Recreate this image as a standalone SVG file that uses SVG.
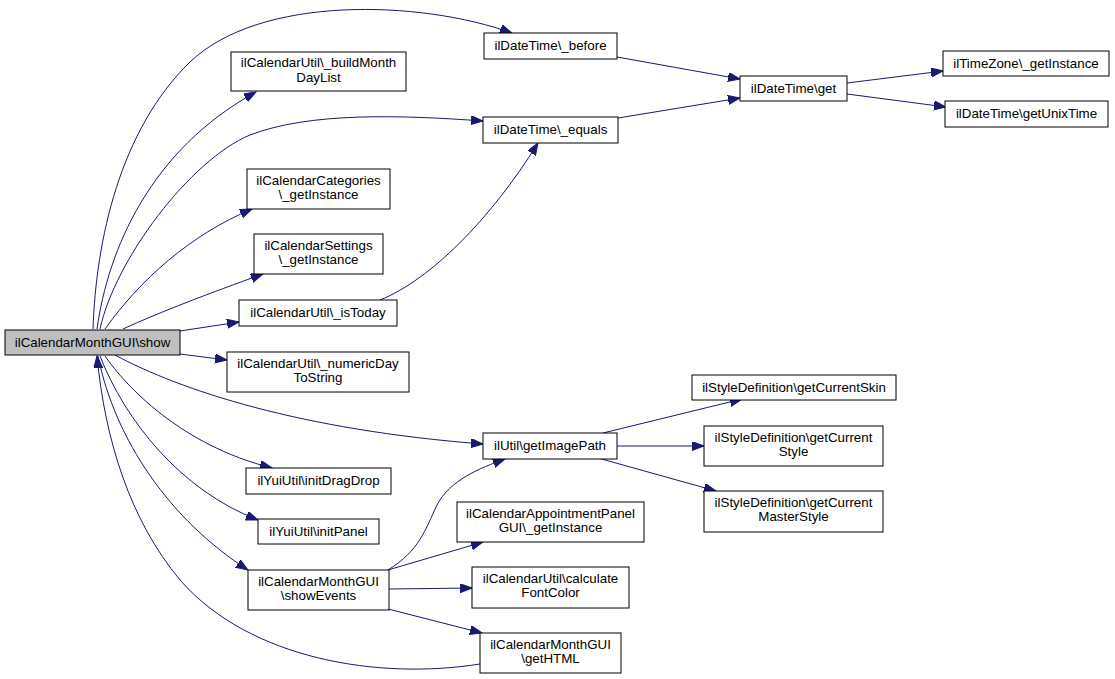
<svg xmlns="http://www.w3.org/2000/svg" width="1115" height="679" viewBox="0 0 1115 679">
<style>
.n rect{fill:#ffffff;stroke:#000000;stroke-width:1}
.n.root rect{fill:#bfbfbf}
.n text{font-family:"Liberation Sans",Arial,Helvetica,sans-serif;font-size:13.33px;fill:#000000;text-anchor:middle}
.e path{fill:none;stroke:#191970;stroke-width:1;marker-end:url(#arr)}
</style>
<defs>
<marker id="arr" markerUnits="userSpaceOnUse" markerWidth="13" markerHeight="10" refX="12" refY="4.5" orient="auto">
<path d="M0,0 L12,4.5 L0,9 Z" fill="#191970" stroke="#191970" stroke-width="1"/>
</marker>
</defs>
<rect width="1115" height="679" fill="#ffffff"/>
<g id="edges" class="e">
<path d="M93,329 C96,240 120,130 190,62 C260,-5 420,0 512,33"/>
<path d="M97,329 C108,250 150,150 256,92"/>
<path d="M100,329 C115,260 190,160 250,135 C310,112 400,115 483,121"/>
<path d="M105,329 C140,280 190,235 252,209"/>
<path d="M123,329 C160,312 210,293 263,274"/>
<path d="M180,331 L239,322"/>
<path d="M180,354 L227,360"/>
<path d="M115,355 C180,390 300,430 483,444"/>
<path d="M105,356 C125,385 180,445 272,468"/>
<path d="M100,356 C125,420 180,490 258,520"/>
<path d="M98,356 C115,440 170,520 248,570"/>
<path d="M480,664 C380,680 250,660 180,580 C130,520 105,440 97,356"/>
<path d="M380,300 C430,280 490,220 538,143"/>
<path d="M617,57 L740,79"/>
<path d="M618,118 L740,98"/>
<path d="M847,83 L943,71"/>
<path d="M847,94 L946,107"/>
<path d="M603,433 L742,399"/>
<path d="M617,446 L704,446"/>
<path d="M598,458 L716,491"/>
<path d="M388,570 C420,550 425,530 437,505 C450,480 480,468 505,459"/>
<path d="M388,570 L483,542"/>
<path d="M389,589 L472,588"/>
<path d="M388,609 L482,633"/>
</g>
<g id="n_show" class="n root"><rect x="5" y="330" width="175" height="25"/><text x="92.5" y="347">ilCalendarMonthGUI\show</text></g>
<g id="n_buildMonthDayList" class="n"><rect x="231" y="52" width="175" height="39"/><text x="318.5" y="67">ilCalendarUtil\_buildMonth</text><text x="318.5" y="82">DayList</text></g>
<g id="n_categories" class="n"><rect x="247" y="169" width="143" height="40"/><text x="318.5" y="185">ilCalendarCategories</text><text x="318.5" y="199">\_getInstance</text></g>
<g id="n_settings" class="n"><rect x="254" y="234" width="129" height="40"/><text x="318.5" y="250">ilCalendarSettings</text><text x="318.5" y="264">\_getInstance</text></g>
<g id="n_isToday" class="n"><rect x="239" y="300" width="158" height="26"/><text x="318" y="317">ilCalendarUtil\_isToday</text></g>
<g id="n_numericDay" class="n"><rect x="227" y="352" width="182" height="40"/><text x="318" y="368">ilCalendarUtil\_numericDay</text><text x="318" y="382">ToString</text></g>
<g id="n_initDragDrop" class="n"><rect x="246" y="468" width="145" height="26"/><text x="318.5" y="485">ilYuiUtil\initDragDrop</text></g>
<g id="n_initPanel" class="n"><rect x="258" y="519" width="121" height="25"/><text x="318.5" y="536">ilYuiUtil\initPanel</text></g>
<g id="n_showEvents" class="n"><rect x="248" y="570" width="141" height="40"/><text x="318.5" y="586">ilCalendarMonthGUI</text><text x="318.5" y="600">\showEvents</text></g>
<g id="n_before" class="n"><rect x="484" y="33" width="133" height="26"/><text x="550.5" y="50">ilDateTime\_before</text></g>
<g id="n_equals" class="n"><rect x="483" y="117" width="135" height="26"/><text x="550.5" y="134">ilDateTime\_equals</text></g>
<g id="n_get" class="n"><rect x="740" y="76" width="107" height="25"/><text x="793.5" y="93">ilDateTime\get</text></g>
<g id="n_timeZone" class="n"><rect x="943" y="51" width="166" height="25"/><text x="1026" y="68">ilTimeZone\_getInstance</text></g>
<g id="n_unixTime" class="n"><rect x="945" y="101" width="163" height="26"/><text x="1026.5" y="118">ilDateTime\getUnixTime</text></g>
<g id="n_getImagePath" class="n"><rect x="483" y="433" width="134" height="26"/><text x="550" y="450">ilUtil\getImagePath</text></g>
<g id="n_skin" class="n"><rect x="692" y="375" width="204" height="25"/><text x="794" y="392">ilStyleDefinition\getCurrentSkin</text></g>
<g id="n_style" class="n"><rect x="704" y="426" width="179" height="40"/><text x="793.5" y="442">ilStyleDefinition\getCurrent</text><text x="793.5" y="456">Style</text></g>
<g id="n_masterStyle" class="n"><rect x="704" y="491" width="179" height="41"/><text x="793.5" y="507">ilStyleDefinition\getCurrent</text><text x="793.5" y="521">MasterStyle</text></g>
<g id="n_appointment" class="n"><rect x="457" y="502" width="187" height="40"/><text x="550.5" y="518">ilCalendarAppointmentPanel</text><text x="550.5" y="532">GUI\_getInstance</text></g>
<g id="n_fontColor" class="n"><rect x="472" y="567" width="157" height="41"/><text x="550.5" y="583">ilCalendarUtil\calculate</text><text x="550.5" y="597">FontColor</text></g>
<g id="n_getHTML" class="n"><rect x="480" y="633" width="141" height="40"/><text x="550.5" y="649">ilCalendarMonthGUI</text><text x="550.5" y="663">\getHTML</text></g>
</svg>
